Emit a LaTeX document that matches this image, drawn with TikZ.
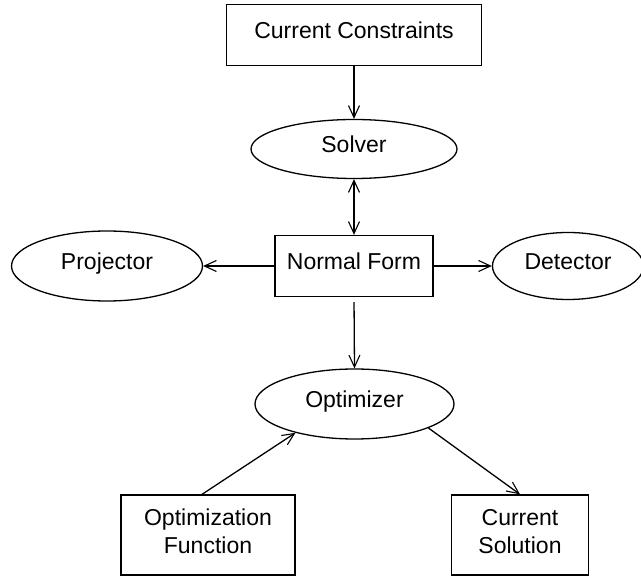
\documentclass[tikz,border=0pt]{standalone}
\usepackage{fontspec}
\setmainfont{Liberation Sans}
\usetikzlibrary{shapes.geometric,arrows.meta}
\begin{document}
\begin{tikzpicture}[x=1pt,y=-1pt,
  box/.style={draw,line width=1.3pt,rectangle,inner sep=0pt,font=\fontsize{23}{28}\selectfont,align=center,text height=17pt,text depth=10.5pt},
  twoline/.style={text height=45pt,text depth=8.5pt},
  ell/.style={draw,line width=1.3pt,ellipse,inner sep=0pt,font=\fontsize{23}{28}\selectfont,text height=17pt,text depth=10.5pt},
  conn/.style={line width=1.3pt,-{Straight Barb[length=12pt,width=11pt,line width=1.1pt]}},
  conn2/.style={line width=1.3pt,{Straight Barb[length=12pt,width=11pt,line width=1.1pt]}-{Straight Barb[length=12pt,width=11pt,line width=1.1pt]}}]
\useasboundingbox (0,0) rectangle (641,577);
\node[box,minimum width=255pt,minimum height=61pt] (cc) at (354,35) {Current Constraints};
\node[ell,minimum width=206pt,minimum height=59pt] (solver) at (354,149) {Solver};
\node[box,minimum width=158pt,minimum height=61pt] (nf) at (354,266) {Normal Form};
\node[ell,minimum width=191pt,minimum height=70pt] (proj) at (107,266) {Projector};
\node[ell,minimum width=151pt,minimum height=67pt] (det) at (568,266) {Detector};
\node[ell,minimum width=199pt,minimum height=70pt] (opt) at (354.5,404) {Optimizer};
\node[box,twoline,minimum width=174pt,minimum height=80pt] (optf) at (208,535) {Optimization\\Function};
\node[box,twoline,minimum width=137pt,minimum height=80pt] (cs) at (520,535) {Current\\Solution};
\draw[conn] (cc.south -| solver.north) -- (solver.north);
\draw[conn2] (solver.south) -- (nf.north -| solver.south);
\draw[conn] (nf.west) -- (proj.east);
\draw[conn] (nf.east) -- (det.west);
\draw[conn,shorten <=5pt] (nf.south) -- (opt.north);
\draw[conn] ([xshift=-6pt]optf.north) -- (opt.206);
\draw[conn] (opt.342) -- (cs.north);
\end{tikzpicture}
\end{document}
